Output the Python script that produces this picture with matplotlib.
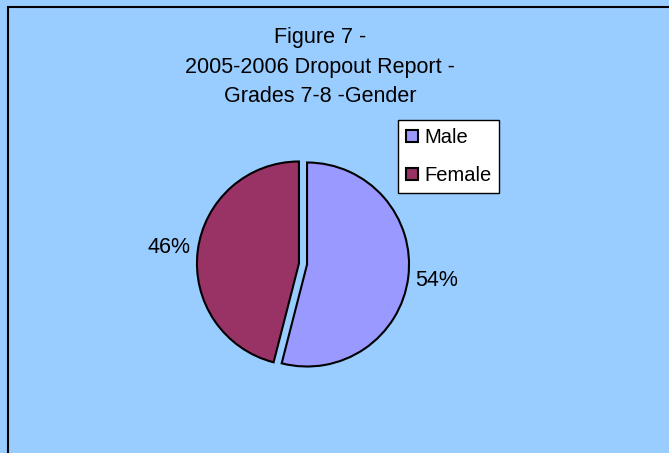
import matplotlib.pyplot as plt
import matplotlib.patches as mpatches

# data
labels = ['Male', 'Female']
values = [54, 46]
colors = ['#9999FF', '#993366']
title_lines = ['Figure 7 -', '2005-2006 Dropout Report -', 'Grades 7-8 -Gender']

plt.rcParams['font.family'] = ['Liberation Sans', 'DejaVu Sans']

W, H = 669, 453
fig = plt.figure(figsize=(W / 100, H / 100), dpi=100)
fig.patch.set_facecolor('#99CCFF')

# frame (right/bottom run off the image)
fig.patches.append(mpatches.Rectangle((8 / W, -0.1), 2, (H - 7) / H + 0.1,
                                      transform=fig.transFigure, fill=False,
                                      edgecolor='black', linewidth=1.5))

# pie axes, centered at (303, 264) px with radius ~102 px
cx, cy, r = 303, 264, 102
half = 1.2 * r
ax = fig.add_axes([(cx - half) / W, (H - cy - half) / H, 2 * half / W, 2 * half / H])
ax.set_xlim(-1.2, 1.2)
ax.set_ylim(-1.2, 1.2)

wedges, texts, autotexts = ax.pie(values, colors=colors, startangle=90, counterclock=False,
                                  explode=[0.04, 0.04], autopct='%d%%', pctdistance=1.28,
                                  wedgeprops=dict(edgecolor='black', linewidth=1.5),
                                  textprops=dict(fontsize=15.5), frame=True)
ax.axis('off')

# title
for i, line in enumerate(title_lines):
    fig.text(320 / W, 1 - (38 + i * 29.5) / H, line, ha='center', va='center', fontsize=15.5)

leg = fig.legend(wedges, labels, loc='upper left', bbox_to_anchor=(398 / W, 1 - 120 / H),
                 fontsize=14.5, frameon=True, fancybox=False, edgecolor='black',
                 facecolor='white', framealpha=1,
                 handlelength=0.6, handleheight=0.6, handletextpad=0.3,
                 labelspacing=0.95, borderpad=0.4, borderaxespad=0)
leg.get_frame().set_linewidth(1)

fig.savefig('out.png', dpi=100, facecolor=fig.get_facecolor())
